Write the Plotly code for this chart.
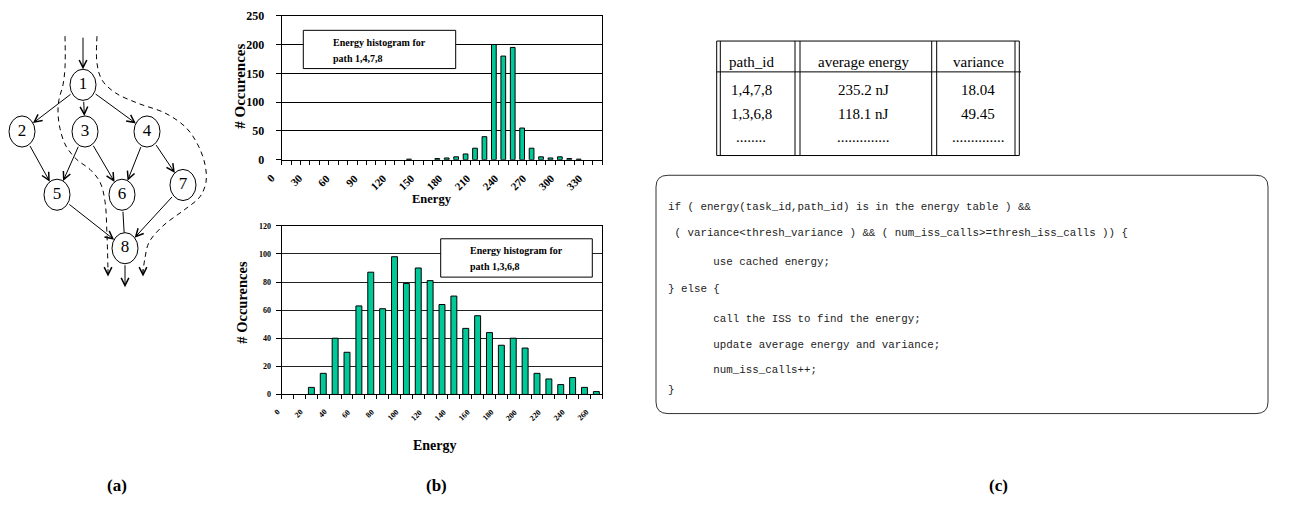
import math
import plotly.graph_objects as go

W, H = 1294, 512
SERIF = "Liberation Serif"
MONO = "Liberation Mono"
BAR_COLOR = "#00C999"

# ---------------- data ----------------
top_energy = [0, 10, 20, 30, 40, 50, 60, 70, 80, 90, 100, 110, 120, 130, 140, 150, 160,
              170, 180, 190, 200, 210, 220, 230, 240, 250, 260, 270, 280, 290, 300, 310, 320, 330]
top_counts = [0, 0, 0, 0, 0, 0, 0, 0, 0, 0, 0, 0, 0, 1, 0, 0, 2,
              3, 5, 10, 20, 40, 200, 180, 195, 55, 20, 5, 3, 5, 2, 1, 0, 0]
top_tick_labels = [0, 30, 60, 90, 120, 150, 180, 210, 240, 270, 300, 330]
top_y_ticks = [0, 50, 100, 150, 200, 250]

bottom_energy = [0, 10, 20, 30, 40, 50, 60, 70, 80, 90, 100, 110, 120, 130, 140, 150, 160,
                 170, 180, 190, 200, 210, 220, 230, 240, 250, 260]
bottom_counts = [0, 0, 5, 15, 40, 30, 63, 87, 61, 98, 79, 90, 81, 64, 70, 47, 56,
                 44, 35, 40, 33, 15, 11, 7, 12, 5, 2]
bottom_tick_labels = [0, 20, 40, 60, 80, 100, 120, 140, 160, 180, 200, 220, 240, 260]
bottom_y_ticks = [0, 20, 40, 60, 80, 100, 120]

top_box_text = ["Energy histogram for", "path 1,4,7,8"]
bottom_box_text = ["Energy histogram for", "path 1,3,6,8"]

# task graph (a)
node_ids = ["1", "2", "3", "4", "5", "6", "7", "8"]
node_x = [83, 22, 85, 147, 57, 122, 183, 125]
node_y = [80, 128, 128, 128, 193, 193, 183, 248]
edges = [("1", "2"), ("1", "3"), ("1", "4"), ("2", "5"), ("3", "5"), ("3", "6"),
         ("4", "6"), ("4", "7"), ("5", "8"), ("6", "8"), ("7", "8")]
edges_without_head = [("6", "8")]
path_1368_x = [65, 65, 63, 59, 58, 60, 66, 77, 90, 100, 105, 107, 108]
path_1368_y = [30, 62, 80, 95, 108, 125, 143, 157, 167, 180, 200, 235, 272]
path_1478_x = [97, 97, 102, 115, 138, 165, 186, 198, 205, 206, 200, 185, 163, 149, 145, 143]
path_1478_y = [30, 58, 75, 88, 99, 109, 124, 142, 162, 180, 195, 208, 225, 242, 258, 272]

# energy table (c)
table_header = ["path_id", "average energy", "variance"]
table_rows = [["1,4,7,8", "235.2 nJ", "18.04"],
              ["1,3,6,8", "118.1 nJ", "49.45"],
              ["........", "..............", ".............."]]

code_lines = [
    "if ( energy(task_id,path_id) is in the energy table ) &&",
    " ( variance<thresh_variance ) && ( num_iss_calls>=thresh_iss_calls )) {",
    "       use cached energy;",
    "} else {",
    "       call the ISS to find the energy;",
    "       update average energy and variance;",
    "       num_iss_calls++;",
    "}",
]
panel_labels = ["(a)", "(b)", "(c)"]

# ---------------- layout constants (pixels) ----------------
PLOT_X0, PLOT_X1 = 281.7, 602.3
TOP_Y0, TOP_Y1 = 9, 157
BOT_Y0, BOT_Y1 = 225, 398.3
TOP_RANGE = [-5, 335]
BOT_RANGE = [-5, 265]
RX, RY = 13, 16


def px(x):
    return x / W


def py(y):
    return 1 - y / H


def xpix(v, rng):
    return PLOT_X0 + (v - rng[0]) / (rng[1] - rng[0]) * (PLOT_X1 - PLOT_X0)


def esc(s):
    s = s.replace("&", "&amp;").replace("<", "&lt;").replace(">", "&gt;")
    n = len(s) - len(s.lstrip(" "))
    return "\u00a0" * n + s.lstrip(" ")


fig = go.Figure()

fig.add_trace(go.Bar(x=top_energy, y=top_counts, xaxis="x", yaxis="y", width=5,
                     marker=dict(color=BAR_COLOR,
                                 line=dict(color="black", width=[1 if c else 0 for c in top_counts])),
                     hoverinfo="skip", showlegend=False))
fig.add_trace(go.Bar(x=bottom_energy, y=bottom_counts, xaxis="x2", yaxis="y2", width=5,
                     marker=dict(color=BAR_COLOR,
                                 line=dict(color="black", width=[1 if c else 0 for c in bottom_counts])),
                     hoverinfo="skip", showlegend=False))

# dashed paths
for xs, ys in [(path_1368_x, path_1368_y), (path_1478_x, path_1478_y)]:
    fig.add_trace(go.Scatter(x=xs, y=ys, mode="lines", xaxis="x3", yaxis="y3",
                             line=dict(color="black", width=1, dash="5px,4px", shape="spline", smoothing=1),
                             hoverinfo="skip", showlegend=False))
# node labels
fig.add_trace(go.Scatter(x=node_x, y=node_y, mode="text", text=node_ids, xaxis="x3", yaxis="y3",
                         textfont=dict(family=SERIF, size=17, color="black"),
                         hoverinfo="skip", showlegend=False))

shapes = []
annotations = []

# node ellipses
for cx, cy in zip(node_x, node_y):
    shapes.append(dict(type="circle", xref="x3", yref="y3", x0=cx - RX, x1=cx + RX,
                       y0=cy - RY, y1=cy + RY, line=dict(color="black", width=1), layer="above"))

pos = {n: (x, y) for n, x, y in zip(node_ids, node_x, node_y)}


def on_ellipse(cx, cy, dx, dy):
    t = 1 / math.sqrt((dx / RX) ** 2 + (dy / RY) ** 2)
    return cx + dx * t, cy + dy * t


def arrow(x0, y0, x1, y1, head=True):
    annotations.append(dict(x=x1, y=y1, ax=x0, ay=y0, xref="x3", yref="y3", axref="x3", ayref="y3",
                            text="", showarrow=True, arrowhead=5 if head else 0, arrowsize=1.5,
                            arrowwidth=1, arrowcolor="black", standoff=0, startstandoff=0))


for a, b in edges:
    (xa, ya), (xb, yb) = pos[a], pos[b]
    dx, dy = xb - xa, yb - ya
    sx, sy = on_ellipse(xa, ya, dx, dy)
    ex, ey = on_ellipse(xb, yb, -dx, -dy)
    arrow(sx, sy, ex, ey, head=(a, b) not in edges_without_head)

# entry / exit arrows
x1n, y1n = pos["1"]
arrow(x1n, 30, x1n, y1n - RY)
x8n, y8n = pos["8"]
arrow(x8n, y8n + RY, x8n, 288)
# dashed path arrowheads
for xs, ys in [(path_1368_x, path_1368_y), (path_1478_x, path_1478_y)]:
    arrow(xs[-1], ys[-1] - 4, xs[-1], ys[-1] + 5)


def label(x, y, text, size, angle=0, bold=True, family=SERIF, xanchor="center", yanchor="middle",
          color="black"):
    annotations.append(dict(x=x, y=y, xref="x3", yref="y3", text=text, showarrow=False,
                            textangle=angle, xanchor=xanchor, yanchor=yanchor, borderpad=0,
                            font=dict(family=family, size=size, color=color,
                                      weight="bold" if bold else "normal")))


# histogram x tick labels (rotated, Excel-style offset left of the category)
for i, v in enumerate(top_tick_labels):
    label(xpix(v, TOP_RANGE) - (8 + 0.3 * i), 168, str(v), 11, angle=-45,
          xanchor="right", yanchor="top")
for v in bottom_tick_labels:
    label(xpix(v, BOT_RANGE) - 5, 410.5, str(v), 8, angle=-45, xanchor="right", yanchor="top")

# axis titles
label(240, 82, "# Occurences", 15, angle=-90)
label(242, 304, "# Occurences", 14.5, angle=-90)
label(432, 197, "Energy", 12.5)
label(435, 451, "Energy", 14)

# legend boxes inside histograms
shapes.append(dict(type="rect", xref="x3", yref="y3", x0=303.3, x1=455.7, y0=24, y1=63.3,
                   line=dict(color="black", width=1), fillcolor="white", layer="above"))
shapes.append(dict(type="rect", xref="x3", yref="y3", x0=440.7, x1=592.3, y0=238.3, y1=277.7,
                   line=dict(color="black", width=1), fillcolor="white", layer="above"))
for i, t in enumerate(top_box_text):
    label(331.7, 36.7 + 16.6 * i, t, 10, xanchor="left")
for i, t in enumerate(bottom_box_text):
    label(469.3, 250 + 16.7 * i, t, 10, xanchor="left")

# table lines
T_X0, T_X1, T_Y0, T_HDR, T_Y1 = 716.7, 1019.3, 35, 66.7, 152.7
for xv in [716.7, 720.3, 795, 800, 931.7, 936.7, 1015, 1019.3]:
    shapes.append(dict(type="line", xref="x3", yref="y3", x0=xv, x1=xv, y0=T_Y0, y1=T_Y1,
                       line=dict(color="black", width=1)))
for yv, xe in [(T_Y0, T_X1), (T_HDR, 1021), (T_Y1, T_X1)]:
    shapes.append(dict(type="line", xref="x3", yref="y3", x0=T_X0, x1=xe, y0=yv, y1=yv,
                       line=dict(color="black", width=1)))
col_x = [751, 863, 978]
row_y = [85, 110, 134]
for cx, t in zip(col_x, table_header):
    label(cx, 56.7, t, 15, bold=False)
for ry, row in zip(row_y, table_rows):
    for cx, t in zip(col_x, row):
        label(cx, ry, t, 15, bold=False)

# code box
CB_X0, CB_X1, CB_Y0, CB_Y1, R = 656, 1268, 173, 418, 12
path = (f"M {CB_X0 + R},{CB_Y0} L {CB_X1 - R},{CB_Y0} Q {CB_X1},{CB_Y0} {CB_X1},{CB_Y0 + R} "
        f"L {CB_X1},{CB_Y1 - R} Q {CB_X1},{CB_Y1} {CB_X1 - R},{CB_Y1} "
        f"L {CB_X0 + R},{CB_Y1} Q {CB_X0},{CB_Y1} {CB_X0},{CB_Y1 - R} "
        f"L {CB_X0},{CB_Y0 + R} Q {CB_X0},{CB_Y0} {CB_X0 + R},{CB_Y0} Z")
shapes.append(dict(type="path", xref="x3", yref="y3", path=path,
                   line=dict(color="#333333", width=1), fillcolor="rgba(0,0,0,0)"))
code_y = [206, 232, 261.7, 290, 320.5, 347, 373, 394]
for yv, t in zip(code_y, code_lines):
    label(666.7, yv, esc(t), 10.8, bold=False, family=MONO, xanchor="left", color="#222222")

# panel labels
for xv, t in zip([117, 436, 998], panel_labels):
    label(xv, 492, t, 17)

minor_top = dict(tickmode="array", tickvals=[e - 5 for e in top_energy] + [top_energy[-1] + 5],
                 ticks="outside", ticklen=4, tickcolor="black", tickwidth=1, showgrid=False)
minor_bot = dict(tickmode="array", tickvals=[e - 5 for e in bottom_energy] + [bottom_energy[-1] + 5],
                 ticks="outside", ticklen=4, tickcolor="black", tickwidth=1, showgrid=False)

xcommon = dict(showgrid=False, zeroline=False, showline=True, linecolor="black", linewidth=1,
               mirror=True, ticks="", showticklabels=False, fixedrange=True, tickmode="array")
ycommon = dict(tickmode="array", ticks="outside", ticklen=5, tickcolor="black", tickwidth=1,
               showgrid=True, gridwidth=1, zeroline=False, showline=True, linecolor="black",
               linewidth=1, mirror=True, fixedrange=True)

fig.update_layout(
    width=W, height=H, autosize=False,
    margin=dict(l=0, r=0, t=0, b=0, pad=0),
    paper_bgcolor="white", plot_bgcolor="rgba(0,0,0,0)",
    showlegend=False,
    xaxis=dict(domain=[px(PLOT_X0), px(PLOT_X1)], anchor="y", range=TOP_RANGE,
               tickvals=top_tick_labels, minor=minor_top, **xcommon),
    yaxis=dict(domain=[py(TOP_Y1), py(TOP_Y0)], anchor="x", range=[0, 250], tickvals=top_y_ticks,
               gridcolor="black", ticklabelstandoff=9,
               tickfont=dict(family=SERIF, size=12, color="black", weight="bold"), **ycommon),
    xaxis2=dict(domain=[px(PLOT_X0), px(PLOT_X1)], anchor="y2", range=BOT_RANGE,
                tickvals=bottom_tick_labels, minor=minor_bot, **xcommon),
    yaxis2=dict(domain=[py(BOT_Y1), py(BOT_Y0)], anchor="x2", range=[0, 120], tickvals=bottom_y_ticks,
                gridcolor="#222222", ticklabelstandoff=3,
                tickfont=dict(family=SERIF, size=8, color="black", weight="bold"), **ycommon),
    xaxis3=dict(domain=[0, 1], anchor="y3", range=[0, W], visible=False, fixedrange=True),
    yaxis3=dict(domain=[0, 1], anchor="x3", range=[H, 0], visible=False, fixedrange=True),
    shapes=shapes,
    annotations=annotations,
)

fig.write_html("out.html", config={"displayModeBar": False},
               post_script="document.body.style.margin='0';")
